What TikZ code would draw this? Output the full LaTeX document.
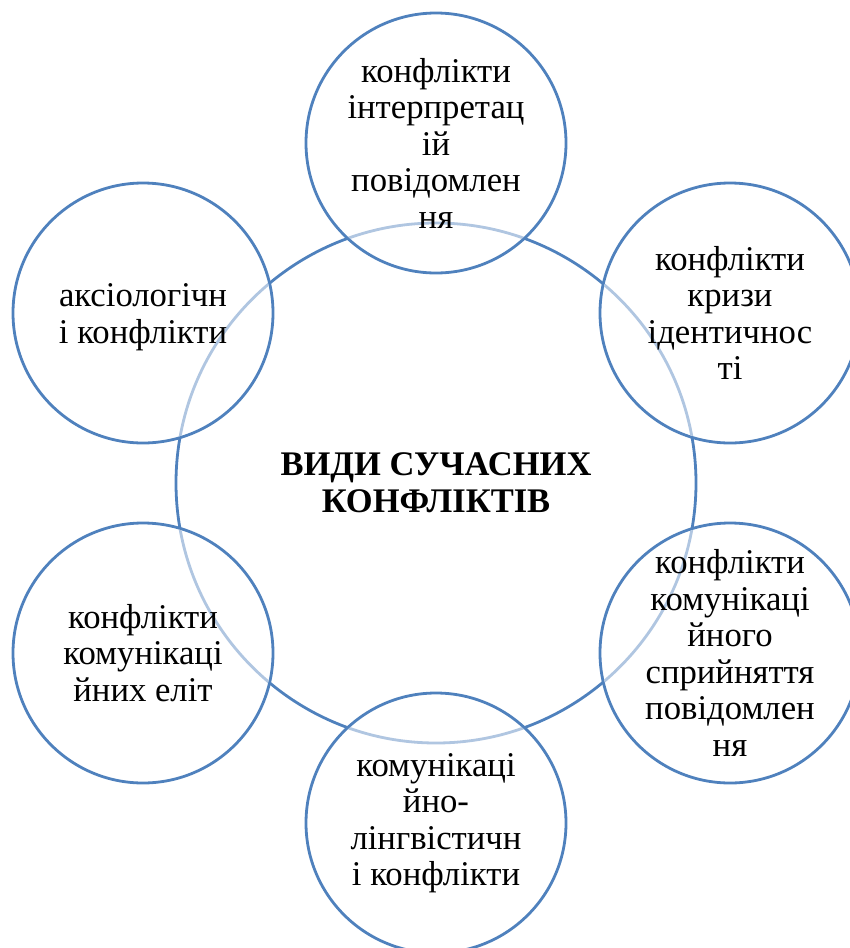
\documentclass[tikz,border=0pt]{standalone}
\usepackage{fontspec}
\setmainfont{Liberation Serif}
\definecolor{ringblue}{HTML}{4F81BD}
\colorlet{ringpale}{ringblue!45!white}
\begin{document}
\begin{tikzpicture}[x=1pt,y=-1pt,
  hub/.style={circle,draw=ringblue,line width=2.8pt,minimum size=520pt,inner sep=0pt},
  hubtext/.style={align=center,inner sep=0pt,font=\fontsize{34.5}{37}\selectfont\bfseries},
  petal/.style={circle,draw=ringblue,line width=2.8pt,minimum size=260pt,inner sep=0pt,fill=white},
  paleline/.style={draw=ringpale,line width=2.8pt},
  petaltext/.style={align=center,inner sep=0pt,font=\fontsize{34.7}{36.5}\selectfont}]
  \useasboundingbox (0,0) rectangle (850,948);
  % central ring
  \node[hub] (hub) at (436,483) {};
  % six outer rings
  \node[petal] (top) at (436,143) {};
  \node[petal] (ur) at (730,313) {};
  \node[petal] (lr) at (730,653) {};
  \node[petal] (bot) at (436,823) {};
  \node[petal] (ll) at (143,653) {};
  \node[petal] (ul) at (143,313) {};
  % the central ring shows faintly through each outer ring
  \foreach \p in {top,ur,lr,bot,ll,ul}{
    \begin{scope}
      \clip (\p.center) circle[radius=128.5];
      \draw[paleline] (hub.center) circle[radius=260];
    \end{scope}
  }
  % labels
  \node[hubtext] (hubt) at (hub.center) {ВИДИ СУЧАСНИХ\\КОНФЛІКТІВ};
  \node[petaltext] (topt) at (top.center) {конфлікти\\інтерпретац\\ій\\повідомлен\\ня};
  \node[petaltext] (urt) at (ur.center) {конфлікти\\кризи\\ідентичнос\\ті};
  \node[petaltext] (lrt) at (lr.center) {конфлікти\\комунікаці\\йного\\сприйняття\\повідомлен\\ня};
  \node[petaltext] (bott) at (bot.center) {комунікаці\\йно-\\лінгвістичн\\і конфлікти};
  \node[petaltext] (llt) at (ll.center) {конфлікти\\комунікаці\\йних еліт};
  \node[petaltext] (ult) at ([yshift=-4pt]ul.center) {аксіологічн\\і конфлікти};
\end{tikzpicture}
\end{document}
